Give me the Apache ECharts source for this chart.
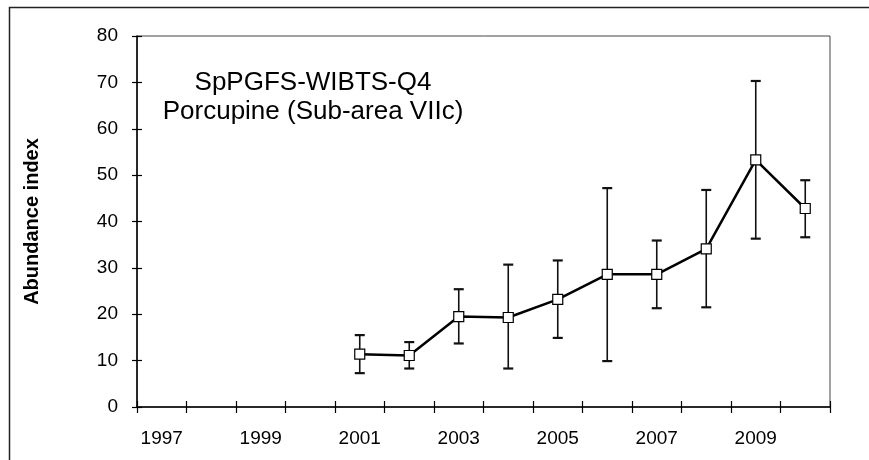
<!DOCTYPE html>
<html>
<head>
<meta charset="utf-8">
<script src="https://cdn.jsdelivr.net/npm/echarts@6/dist/echarts.min.js"></script>
<style>
html,body{margin:0;padding:0;background:#fff;}
#chart{width:869px;height:460px;}
</style>
</head>
<body>
<div id="chart"></div>
<script>
var years = ['1997','1998','1999','2000','2001','2002','2003','2004','2005','2006','2007','2008','2009','2010'];
var abundance = [null, null, null, null, 11.4, 11.1, 19.5, 19.3, 23.2, 28.6, 28.6, 34.1, 53.3, 42.8];
var upperCI = [null, null, null, null, 15.5, 14.0, 25.4, 30.7, 31.6, 47.2, 35.9, 46.8, 70.3, 48.9];
var lowerCI = [null, null, null, null, 7.3, 8.3, 13.7, 8.3, 14.9, 9.9, 21.3, 21.5, 36.3, 36.6];
var titleLines = ['SpPGFS-WIBTS-Q4', 'Porcupine (Sub-area VIIc)'];
var yAxisName = 'Abundance index';

var FONT = "'Liberation Sans', Arial, sans-serif";

var errData = [];
for (var i = 0; i < years.length; i++) {
  if (upperCI[i] != null && lowerCI[i] != null) {
    errData.push([i, upperCI[i], lowerCI[i]]);
  }
}

var chart = echarts.init(document.getElementById('chart'), null, {renderer: 'canvas'});
var option = {
  animation: false,
  backgroundColor: '#fff',
  textStyle: {fontFamily: FONT, color: '#000'},
  title: {
    text: titleLines.join('\n'),
    left: 313,
    top: 68,
    padding: 0,
    textAlign: 'center',
    textStyle: {fontFamily: FONT, fontSize: 26, fontWeight: 'normal', color: '#000', lineHeight: 29}
  },
  graphic: [{
    type: 'rect',
    shape: {x: 9.5, y: 7.5, width: 900, height: 500},
    style: {fill: null, stroke: '#222', lineWidth: 1.5},
    silent: true,
    z: 100
  }],
  grid: {
    left: 137, top: 36, right: 39, bottom: 53,
    show: true, borderColor: '#444', borderWidth: 1
  },
  xAxis: [{
    type: 'category',
    data: years,
    boundaryGap: true,
    position: 'bottom',
    axisLine: {show: true, lineStyle: {color: '#000', width: 1.5}},
    axisTick: {show: true, inside: false, length: 6, interval: 0, lineStyle: {color: '#000', width: 1.2}},
    axisLabel: {interval: 1, margin: 22, fontFamily: FONT, fontSize: 19, color: '#000'},
    splitLine: {show: false}
  }, {
    type: 'category',
    data: years,
    boundaryGap: true,
    position: 'bottom',
    axisLine: {show: false},
    axisTick: {show: true, inside: true, length: 6, interval: 0, lineStyle: {color: '#000', width: 1.2}},
    axisLabel: {show: false},
    splitLine: {show: false}
  }],
  yAxis: [{
    type: 'value',
    min: 0, max: 80, interval: 10,
    position: 'left',
    name: yAxisName,
    nameLocation: 'middle',
    nameGap: 95,
    nameRotate: 90,
    nameTextStyle: {fontFamily: FONT, fontSize: 20, fontWeight: 'bold', color: '#000'},
    axisLine: {show: true, lineStyle: {color: '#000', width: 1.5}},
    axisTick: {show: true, inside: false, length: 5, lineStyle: {color: '#000', width: 1.2}},
    axisLabel: {margin: 19, fontFamily: FONT, fontSize: 19, color: '#000'},
    splitLine: {show: false}
  }, {
    type: 'value',
    min: 0, max: 80, interval: 10,
    position: 'left',
    axisLine: {show: false},
    axisTick: {show: true, inside: true, length: 5, lineStyle: {color: '#000', width: 1.2}},
    axisLabel: {show: false},
    splitLine: {show: false}
  }],
  series: [{
    type: 'custom',
    xAxisIndex: 0,
    yAxisIndex: 0,
    data: errData,
    z: 2,
    renderItem: function (params, api) {
      var x = api.value(0);
      var hi = api.coord([x, api.value(1)]);
      var lo = api.coord([x, api.value(2)]);
      var w = 5;
      var st = {stroke: '#111', lineWidth: 1.6};
      var cap = {stroke: '#111', lineWidth: 2.2};
      return {
        type: 'group',
        children: [
          {type: 'line', shape: {x1: hi[0], y1: hi[1], x2: lo[0], y2: lo[1]}, style: st},
          {type: 'line', shape: {x1: hi[0] - w, y1: hi[1], x2: hi[0] + w, y2: hi[1]}, style: cap},
          {type: 'line', shape: {x1: lo[0] - w, y1: lo[1], x2: lo[0] + w, y2: lo[1]}, style: cap}
        ]
      };
    }
  }, {
    type: 'line',
    xAxisIndex: 0,
    yAxisIndex: 0,
    data: abundance,
    z: 5,
    connectNulls: false,
    symbol: 'rect',
    symbolSize: 10,
    lineStyle: {color: '#000', width: 2.5},
    itemStyle: {color: '#fff', borderColor: '#000', borderWidth: 1.2},
    emphasis: {disabled: true}
  }]
};
chart.setOption(option);
</script>
</body>
</html>
